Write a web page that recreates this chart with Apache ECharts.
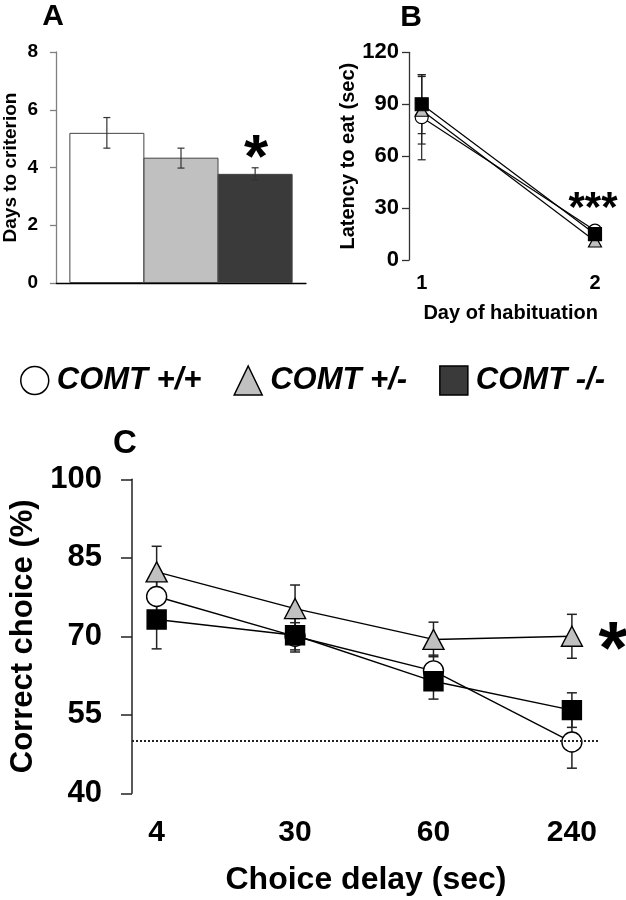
<!DOCTYPE html>
<html><head><meta charset="utf-8">
<script src="https://cdn.jsdelivr.net/npm/echarts@6/dist/echarts.min.js"></script>
<style>html,body{margin:0;padding:0;background:#fff}#c{width:626px;height:900px}</style>
</head><body><div id="c"></div>
<script>
// ---------- data ----------
const groupNames = ['COMT +/+', 'COMT +/-', 'COMT -/-'];
// Panel A
const daysToCriterion = [5.2, 4.34, 3.78];
const daysErrLow = [4.67, 3.98, 3.57];
const daysErrHigh = [5.73, 4.67, 3.99];
// Panel B
const habDays = [1, 2];
const latencyWT = [82.5, 17];
const latencyHet = [86.5, 11];
const latencyKO = [90, 15];
const latencyErrWT = [24.6, 2.5];
const latencyErrHet = [19.5, 2.5];
const latencyErrKO = [17, 2.5];
// Panel C
const delayLabels = ['4', '30', '60', '240'];
const delayPos = [0, 1, 2, 3];
const choiceWT = [77.6, 70.0, 63.4, 49.8];
const choiceHet = [82.3, 75.3, 69.4, 70.0];
const choiceKO = [73.2, 70.2, 61.4, 55.9];
const choiceErrWT = [4.0, 2.6, 3.0, 5.0];
const choiceErrHet = [4.9, 4.5, 3.3, 4.2];
const choiceErrKO = [5.6, 3.2, 3.4, 3.3];
const chanceLevel = 50;
const cTicks = [40, 55, 70, 85, 100];

// ---------- styles ----------
const FF = '"Liberation Sans", Arial, sans-serif';
const FFN = '"Liberation Sans Narrow", "Liberation Sans", Arial, sans-serif';
const barColors = ['#ffffff', '#c0c0c0', '#3a3a3a'];

function errRender(capHalf, color, width) {
  return function (params, api) {
    const x = api.value(0), lo = api.value(1), hi = api.value(2);
    const pLo = api.coord([x, lo]), pHi = api.coord([x, hi]);
    const style = { stroke: color, lineWidth: width };
    return { type: 'group', children: [
      { type: 'line', shape: { x1: pLo[0], y1: pLo[1], x2: pHi[0], y2: pHi[1] }, style },
      { type: 'line', shape: { x1: pLo[0] - capHalf, y1: pLo[1], x2: pLo[0] + capHalf, y2: pLo[1] }, style },
      { type: 'line', shape: { x1: pHi[0] - capHalf, y1: pHi[1], x2: pHi[0] + capHalf, y2: pHi[1] }, style }
    ]};
  };
}
function errData(xs, vals, errs) { return xs.map((x, i) => [x, vals[i] - errs[i], vals[i] + errs[i]]); }
function errSeries(ax, data, cap, color, width) {
  return { type: 'custom', xAxisIndex: ax, yAxisIndex: ax, renderItem: errRender(cap, color, width),
    encode: { x: 0, y: [1, 2] }, data, z: 1, silent: true };
}
const markerStyles = [
  { symbol: 'circle', color: '#ffffff' },
  { symbol: 'triangle', color: '#c0c0c0' },
  { symbol: 'rect', color: '#000000' }
];
function lineSeries(ax, name, xs, vals, k, size, lw) {
  return { type: 'line', name, xAxisIndex: ax, yAxisIndex: ax,
    data: xs.map((x, i) => [x, vals[i]]),
    symbol: markerStyles[k].symbol, symbolSize: size,
    itemStyle: { color: markerStyles[k].color, borderColor: '#000', borderWidth: lw },
    lineStyle: { color: '#000', width: lw }, z: 3 + k, silent: true, emphasis: { disabled: true } };
}

const chart = echarts.init(document.getElementById('c'), null, { renderer: 'canvas' });
const option = {
  animation: false,
  backgroundColor: '#fff',
  textStyle: { fontFamily: FF },
  grid: [
    { left: 52, top: 52, width: 254, height: 231 },
    { left: 409, top: 52.3, width: 203.3, height: 207.7 },
    { left: 124.3, top: 479.3, width: 475.7, height: 314 }
  ],
  legend: {
    left: 15, top: 360, itemWidth: 28, itemHeight: 29, itemGap: 32, selectedMode: false,
    textStyle: { fontFamily: FF, fontWeight: 'bold', fontStyle: 'italic', fontSize: 31, color: '#000', padding: [0, 0, 0, 3] },
    data: [
      { name: groupNames[0], icon: 'circle', itemStyle: { color: '#fff', borderColor: '#000', borderWidth: 1.5 } },
      { name: groupNames[1], icon: 'triangle', itemStyle: { color: '#c0c0c0', borderColor: '#000', borderWidth: 1.5 } },
      { name: groupNames[2], icon: 'rect', itemStyle: { color: '#3a3a3a', borderColor: '#000', borderWidth: 1.5 } }
    ]
  },
  xAxis: [
    { gridIndex: 0, type: 'value', min: -0.686, max: 2.686,
      axisLine: { show: true, onZero: false, lineStyle: { color: '#000', width: 1.3 } },
      axisTick: { show: false }, axisLabel: { show: false }, splitLine: { show: false } },
    { gridIndex: 1, type: 'value', min: 0.9267, max: 2.1,
      axisLine: { show: false, onZero: false }, axisTick: { show: false }, splitLine: { show: false },
      axisLabel: { customValues: habDays, margin: 13, fontSize: 20, fontWeight: 'bold', color: '#000', fontFamily: FF },
      name: 'Day of habituation', nameLocation: 'middle', nameGap: 43,
      nameTextStyle: { fontSize: 20, fontWeight: 'bold', color: '#000', fontFamily: FF } },
    { gridIndex: 2, type: 'value', min: -0.178, max: 3.203,
      axisLine: { show: false, onZero: false }, axisTick: { show: false }, splitLine: { show: false },
      axisLabel: { customValues: delayPos, formatter: v => delayLabels[Math.round(v)], margin: 24,
        fontSize: 30, fontWeight: 'bold', color: '#000', fontFamily: FF },
      name: 'Choice delay (sec)', nameLocation: 'middle', nameGap: 71,
      nameTextStyle: { fontSize: 32, fontWeight: 'bold', color: '#000', fontFamily: FF } }
  ],
  yAxis: [
    { gridIndex: 0, type: 'value', min: 0, max: 8, interval: 2,
      axisLine: { show: true, onZero: false, lineStyle: { color: '#808080', width: 1.3 } },
      axisTick: { show: true, length: 6, lineStyle: { color: '#808080', width: 1.3 } },
      axisLabel: { margin: 18, fontSize: 19, fontWeight: 'bold', color: '#000', fontFamily: FFN },
      splitLine: { show: false },
      name: 'Days to criterion', nameLocation: 'middle', nameGap: 36,
      nameTextStyle: { fontSize: 19, fontWeight: 'bold', color: '#000', fontFamily: FF } },
    { gridIndex: 1, type: 'value', min: 0, max: 120, interval: 30,
      axisLine: { show: true, onZero: false, lineStyle: { color: '#333', width: 1.3 } },
      axisTick: { show: true, length: 7, lineStyle: { color: '#333', width: 1.3 } },
      axisLabel: { margin: 10, fontSize: 22, fontWeight: 'bold', color: '#000', fontFamily: FF },
      splitLine: { show: false },
      name: 'Latency to eat (sec)', nameLocation: 'middle', nameGap: 47,
      nameTextStyle: { fontSize: 20, fontWeight: 'bold', color: '#000', fontFamily: FF } },
    { gridIndex: 2, type: 'value', min: 40, max: 100,
      axisLine: { show: true, onZero: false, lineStyle: { color: '#222', width: 1.5 } },
      axisTick: { show: true, customValues: cTicks, length: 11, lineStyle: { color: '#222', width: 1.5 } },
      axisLabel: { customValues: cTicks, margin: 30, fontSize: 31, fontWeight: 'bold', color: '#000', fontFamily: FF },
      splitLine: { show: false },
      name: 'Correct choice (%)', nameLocation: 'middle', nameGap: 93,
      nameTextStyle: { fontSize: 31, fontWeight: 'bold', color: '#000', fontFamily: FF } }
  ],
  series: [
    // Panel A bars
    { type: 'bar', name: 'Days to criterion', xAxisIndex: 0, yAxisIndex: 0, barWidth: 75,
      data: daysToCriterion.map((v, i) => ({ value: [i, v], itemStyle: { color: barColors[i] } })),
      itemStyle: { borderColor: '#444', borderWidth: 1 }, z: 2, silent: true },
    Object.assign(errSeries(0, daysToCriterion.map((v, i) => [i, daysErrLow[i], daysErrHigh[i]]), 3.5, '#333', 1.2), { z: 3 }),
    // Panel B
    errSeries(1, errData(habDays, latencyWT, latencyErrWT), 4, '#222', 1.2),
    errSeries(1, errData(habDays, latencyHet, latencyErrHet), 4, '#222', 1.2),
    errSeries(1, errData(habDays, latencyKO, latencyErrKO), 4, '#222', 1.2),
    lineSeries(1, groupNames[0], habDays, latencyWT, 0, 13, 1.2),
    lineSeries(1, groupNames[1], habDays, latencyHet, 1, [13, 12], 1.2),
    lineSeries(1, groupNames[2], habDays, latencyKO, 2, 13, 1.2),
    // Panel C
    errSeries(2, errData(delayPos, choiceWT, choiceErrWT), 5, '#222', 1.5),
    errSeries(2, errData(delayPos, choiceHet, choiceErrHet), 5, '#222', 1.5),
    errSeries(2, errData(delayPos, choiceKO, choiceErrKO), 5, '#222', 1.5),
    Object.assign(lineSeries(2, groupNames[0], delayPos, choiceWT, 0, 20, 1.4), {
      markLine: { silent: true, symbol: 'none', label: { show: false },
        lineStyle: { type: [2, 2], color: '#222', width: 1.8 },
        data: [{ yAxis: chanceLevel }] } }),
    lineSeries(2, groupNames[1], delayPos, choiceHet, 1, [21, 20], 1.4),
    lineSeries(2, groupNames[2], delayPos, choiceKO, 2, 19, 1.4)
  ],
  graphic: [
    { type: 'text', x: 53, y: 17, style: { text: 'A', font: 'bold 30px ' + FF, fill: '#000', align: 'center', verticalAlign: 'middle', textAlign: 'center', textVerticalAlign: 'middle' } },
    { type: 'text', x: 411, y: 18, style: { text: 'B', font: 'bold 30px ' + FF, fill: '#000', align: 'center', verticalAlign: 'middle', textAlign: 'center', textVerticalAlign: 'middle' } },
    { type: 'text', x: 125, y: 444, style: { text: 'C', font: 'bold 33px ' + FF, fill: '#000', align: 'center', verticalAlign: 'middle', textAlign: 'center', textVerticalAlign: 'middle' } },
    { type: 'text', x: 256, y: 160, style: { text: '*', font: 'bold 62px ' + FF, fill: '#000', align: 'center', verticalAlign: 'middle', textAlign: 'center', textVerticalAlign: 'middle' } },
    { type: 'text', x: 593, y: 209, style: { text: '***', font: 'bold 42px ' + FF, fill: '#000', align: 'center', verticalAlign: 'middle', textAlign: 'center', textVerticalAlign: 'middle' } },
    { type: 'text', x: 613, y: 652, style: { text: '*', font: 'bold 75px ' + FF, fill: '#000', align: 'center', verticalAlign: 'middle', textAlign: 'center', textVerticalAlign: 'middle' } }
  ]
};
chart.setOption(option);
</script>
</body></html>
